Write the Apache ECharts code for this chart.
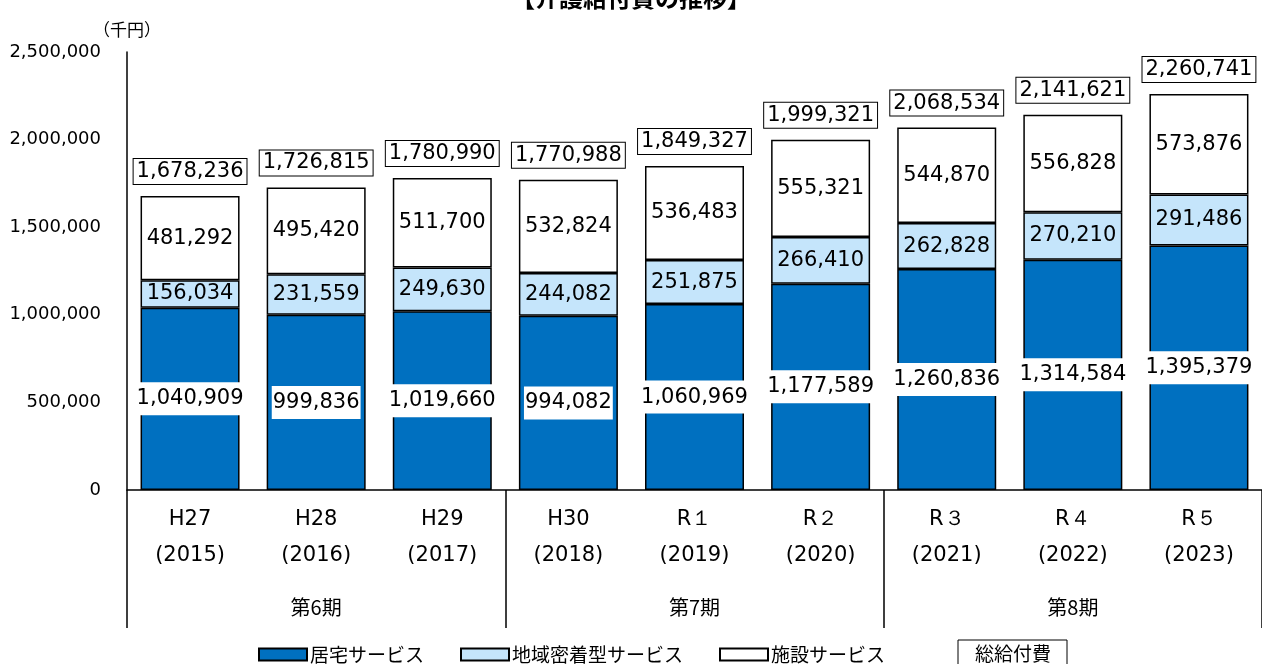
<!DOCTYPE html>
<html>
<head>
<meta charset="utf-8">
<script src="https://cdn.jsdelivr.net/npm/echarts@6/dist/echarts.min.js"></script>
<style>
  html, body { margin: 0; padding: 0; background: #fff; }
  #chart { width: 1262px; height: 664px; }
</style>
</head>
<body>
<div id="chart"></div>
<script>
// 年度
var categories = ['H27\n(2015)', 'H28\n(2016)', 'H29\n(2017)', 'H30\n(2018)', 'R１\n(2019)', 'R２\n(2020)', 'R３\n(2021)', 'R４\n(2022)', 'R５\n(2023)'];
var periods = ['第6期', '第7期', '第8期'];
// 居宅サービス
var kyotaku = [1040909, 999836, 1019660, 994082, 1060969, 1177589, 1260836, 1314584, 1395379];
// 地域密着型サービス
var chiiki = [156034, 231559, 249630, 244082, 251875, 266410, 262828, 270210, 291486];
// 施設サービス
var shisetsu = [481292, 495420, 511700, 532824, 536483, 555321, 544870, 556828, 573876];
// 総給付費
var totals = [1678236, 1726815, 1780990, 1770988, 1849327, 1999321, 2068534, 2141621, 2260741];

var numFont = 'DejaVu Sans';
var jpFont = '"Noto Sans CJK JP", sans-serif';

function fmt(v) {
  return String(v).replace(/\B(?=(\d{3})+(?!\d))/g, ',');
}

var chart = echarts.init(document.getElementById('chart'));

var barBorder = { borderColor: '#000', borderWidth: 1.5 };

chart.setOption({
  animation: false,
  title: {
    text: '【介護給付費の推移】',
    left: 'center',
    top: -19,
    textStyle: { fontFamily: jpFont, fontSize: 24, fontWeight: 'bold', color: '#000' }
  },
  grid: { left: 127, right: -10, top: 52, bottom: 174, containLabel: false },
  legend: [
    {
      data: ['居宅サービス', '地域密着型サービス', '施設サービス'],
      left: 253,
      top: 640,
      icon: 'rect',
      itemWidth: 48,
      itemHeight: 12,
      itemGap: 36,
      textStyle: { fontFamily: jpFont, fontSize: 19, color: '#000', padding: [0, 0, 0, -2] }
    },
    {
      data: ['総給付費'],
      left: 958,
      top: 640,
      icon: 'none',
      itemWidth: 0,
      borderColor: '#000',
      borderWidth: 1,
      padding: [4, 16, 4, 12],
      textStyle: { fontFamily: jpFont, fontSize: 19, color: '#000' }
    }
  ],
  xAxis: [
    {
      type: 'category',
      data: categories,
      position: 'bottom',
      axisLine: { show: true, lineStyle: { color: '#000', width: 1.5 } },
      axisTick: { show: false },
      axisLabel: {
        margin: 12,
        fontFamily: numFont,
        fontSize: 21,
        lineHeight: 36,
        color: '#000'
      }
    },
    {
      type: 'category',
      data: periods,
      position: 'bottom',
      offset: 0,
      axisLine: { show: false },
      axisTick: { show: true, length: 138, lineStyle: { color: '#000', width: 1.5 } },
      axisLabel: { margin: 107, fontFamily: jpFont, fontSize: 20, color: '#000' }
    }
  ],
  yAxis: {
    type: 'value',
    min: 0,
    max: 2500000,
    interval: 500000,
    name: '（千円）',
    nameLocation: 'end',
    nameGap: 14,
    nameTextStyle: { fontFamily: jpFont, fontSize: 17, color: '#000' },
    axisLine: { show: true, lineStyle: { color: '#000', width: 1.5 } },
    axisTick: { show: false },
    splitLine: { show: false },
    axisLabel: {
      margin: 26,
      fontFamily: numFont,
      fontSize: 18,
      color: '#000',
      formatter: function (v) { return fmt(v); }
    }
  },
  series: [
    {
      name: '居宅サービス',
      type: 'bar',
      stack: 'total',
      barWidth: 99,
      itemStyle: Object.assign({ color: '#0070C0' }, barBorder),
      label: {
        show: true,
        position: 'inside',
        fontFamily: numFont,
        fontSize: 21,
        color: '#000',
        backgroundColor: '#fff',
        padding: [6, 1],
        formatter: function (p) { return fmt(p.value); }
      },
      data: kyotaku
    },
    {
      name: '地域密着型サービス',
      type: 'bar',
      stack: 'total',
      itemStyle: Object.assign({ color: '#C5E5FB' }, barBorder),
      label: {
        show: true,
        position: 'inside',
        fontFamily: numFont,
        fontSize: 21,
        color: '#000',
        formatter: function (p) { return fmt(p.value); }
      },
      data: chiiki
    },
    {
      name: '施設サービス',
      type: 'bar',
      stack: 'total',
      itemStyle: Object.assign({ color: '#fff' }, barBorder),
      label: {
        show: true,
        position: 'inside',
        fontFamily: numFont,
        fontSize: 21,
        color: '#000',
        formatter: function (p) { return fmt(p.value); }
      },
      data: shisetsu
    },
    {
      name: '総給付費',
      type: 'scatter',
      symbolSize: 0,
      itemStyle: { color: '#000', opacity: 1 },
      label: {
        show: true,
        position: 'top',
        distance: 12,
        fontFamily: numFont,
        fontSize: 21,
        color: '#000',
        backgroundColor: '#fff',
        borderColor: '#000',
        borderWidth: 1,
        padding: [2, 3],
        formatter: function (p) { return fmt(p.value); }
      },
      data: totals
    }
  ]
});
</script>
</body>
</html>
